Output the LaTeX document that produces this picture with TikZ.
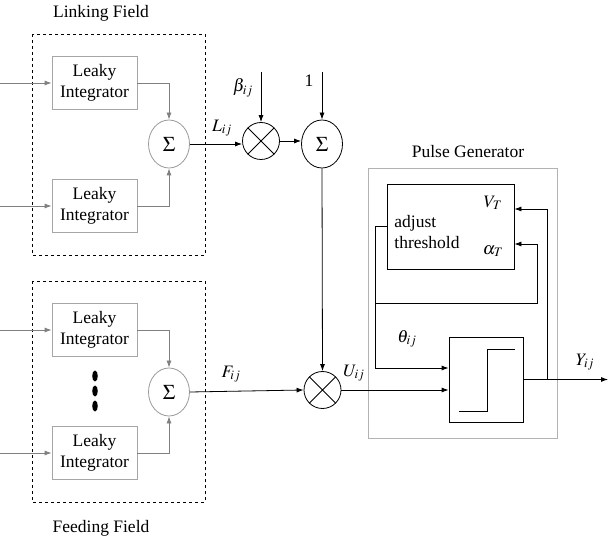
\documentclass[tikz,border=0pt]{standalone}
\usepackage{mathptmx}
\usepackage{fontspec}
\setmainfont{Liberation Serif}
\usetikzlibrary{shapes.geometric,arrows.meta}

\tikzset{
  leaky/.style={draw=gray!70, line width=0.8pt, minimum width=85pt, minimum height=53pt, align=center, inner sep=0pt},
  summer/.style={ellipse, draw, line width=0.8pt, minimum width=41pt, minimum height=48pt, inner sep=0pt, font=\fontsize{21}{21}\selectfont},
  mult/.style={circle, draw, line width=0.8pt, minimum size=37pt, inner sep=0pt},
  arr/.style={-{Latex[length=7pt,width=5pt]}},
  field/.style={draw, dashed, line width=0.8pt},
  lab/.style={inner sep=1pt},
}

\begin{document}
\begin{tikzpicture}[x=1pt, y=-1pt, line width=0.8pt,
  every node/.append style={font=\fontsize{17.5}{21}\selectfont}]
\useasboundingbox (0,0) rectangle (608,545);
% Linking Field:
\draw[field] (32,34) rectangle (205,255);
\node (linktitle) at (101,13) {Linking Field};
\node[leaky] (lbox1) at (94.5,83) {Leaky\\Integrator};
\node[leaky] (lbox2) at (94.5,206) {Leaky\\Integrator};
\node[summer, draw=gray!80] (lsum) at (169,144) {$\Sigma$};
% Feeding Field:
\draw[field] (32,281) rectangle (205,502);
\node (feedtitle) at (101,528) {Feeding Field};
\node[leaky] (fbox1) at (94.5,330) {Leaky\\Integrator};
\node[leaky] (fbox2) at (94.5,453) {Leaky\\Integrator};
\node[summer, draw=gray!80] (fsum) at (169,392) {$\Sigma$};
\foreach \y in {376,391,406}
  \fill (95,\y) ellipse [x radius=2.8pt, y radius=5.5pt]; % Punkte
% Eingaenge:
\coordinate (in1) at (0,83);
\coordinate (in2) at (0,206);
\coordinate (in3) at (0,330);
\coordinate (in4) at (0,453);
\draw[arr, gray] (in1) -- (lbox1.west);
\draw[arr, gray] (in2) -- (lbox2.west);
\draw[arr, gray] (in3) -- (fbox1.west);
\draw[arr, gray] (in4) -- (fbox2.west);
\draw[arr, gray] (lbox1.east) -| (lsum.north);
\draw[arr, gray] (lbox2.east) -| (lsum.south);
\draw[arr, gray] (fbox1.east) -| (fsum.north);
\draw[arr, gray] (fbox2.east) -| (fsum.south);
% Modulation:
\node[mult] (mult1) at (261,141) {};
\draw (mult1.north east) -- (mult1.south west) (mult1.north west) -- (mult1.south east);
\node[summer] (sum2) at (322,144) {$\Sigma$};
\node[mult] (mult2) at (322.5,390) {};
\draw (mult2.north east) -- (mult2.south west) (mult2.north west) -- (mult2.south east);
\coordinate (beta) at (261,72);
\coordinate (one) at (322,72);
\draw[arr] (lsum.east) -- (lsum.east -| mult1.west);
\draw[arr] (beta) -- (mult1.north);
\draw[arr] (mult1.east) -- (mult1.east -| sum2.west);
\draw[arr] (one) -- (sum2.north);
\draw[arr] (sum2.south) -- (mult2.north);
\draw[arr] (fsum.east) -- (mult2.west);
\node[lab] (Llab) at (222,128) {$L_{ij}$};
\node[lab] (betalab) at (243,88) {$\beta_{ij}$};
\node[lab] (onelab) at (309,81) {1};
\node[lab] (Flab) at (231,374) {$F_{ij}$};
\node[lab] (Ulab) at (354,373) {$U_{ij}$};
% Pulse Generator:
\draw[gray!60] (368,168) rectangle (557,438);
\node (pulsetitle) at (468,152) {Pulse Generator};
\node[draw, minimum width=127pt, minimum height=85pt, inner sep=0pt] (adjust) at (450.5,226.5) {};
\node[anchor=west, align=left, inner sep=1pt] (adjtext) at (393,232) {adjust\\threshold};
\node[lab] (VT) at (493,203) {$V_T$};
\node[lab] (aT) at (493,251) {$\alpha_T$};
\node[draw, minimum width=74pt, minimum height=85pt, inner sep=0pt] (step) at (486,379.5) {};
\draw (459,411) -- (487,411) -- (487,349) -- (515,349); % Sprung
\node[lab] (thetalab) at (407,339) {$\theta_{ij}$};
\node[lab] (Ylab) at (585,362) {$Y_{ij}$};
\coordinate (out) at (608,379.5);
\coordinate (tap) at (547,379.5);
\coordinate (loop) at (376,303);
\draw[arr] (mult2.east) -- (mult2.east -| step.west);
\draw[arr] (step.east) -- (out);
\draw[arr] (tap) |- ([yshift=17.5pt]adjust.east);
\draw[arr] (adjust.west) -- ++(-11,0) |- ([yshift=11.5pt]step.west);
\draw[arr] (loop) -- (537,303) |- ([yshift=-17.5pt]adjust.east);
\end{tikzpicture}
\end{document}
